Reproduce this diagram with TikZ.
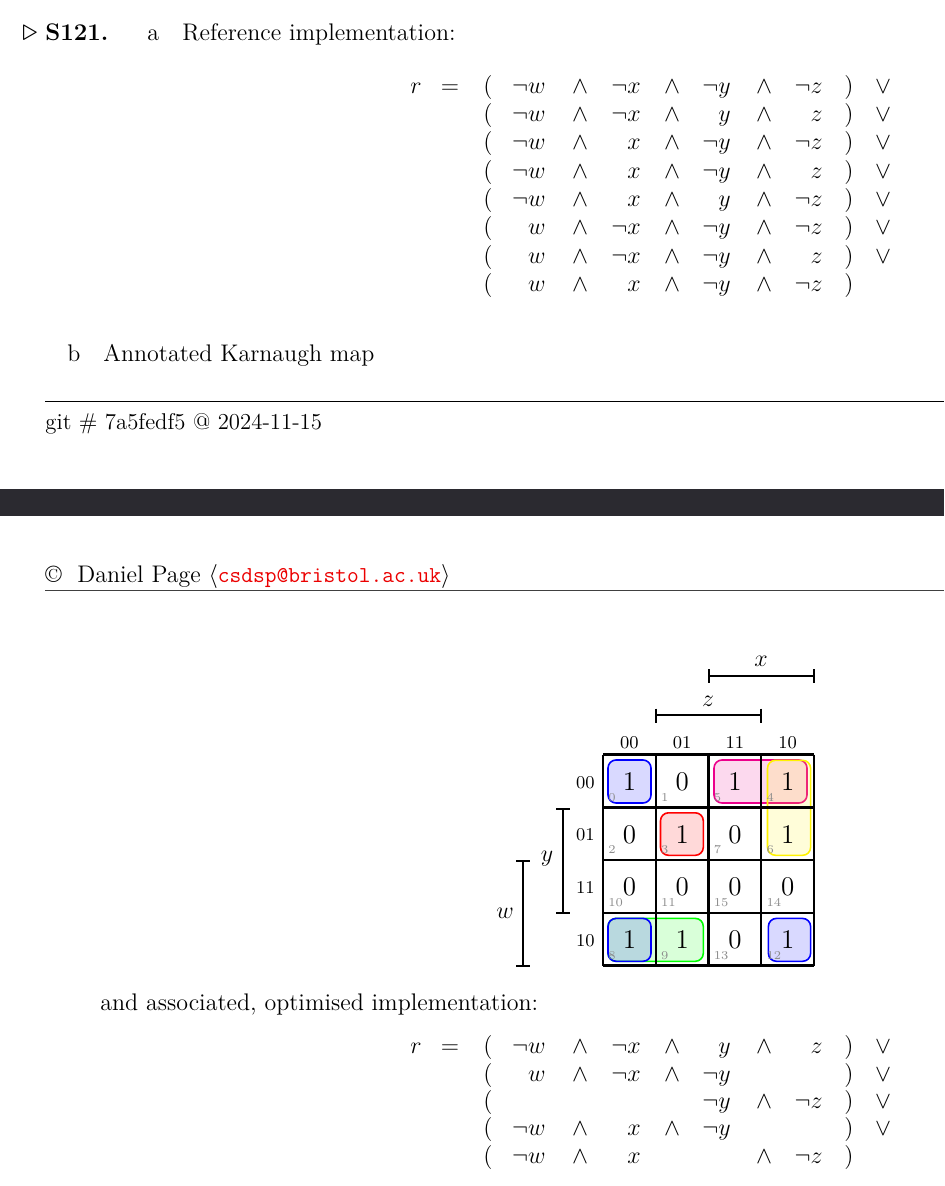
\documentclass[tikz,border=0pt]{standalone}
\usepackage{fontspec}
\usepackage{amsmath,amssymb}
\definecolor{barcol}{RGB}{43,42,48}
\definecolor{mailred}{RGB}{235,0,0}
\newcommand\eqrow[9]{%
  \node[mth] at (488,#1) {$($};
  \node[mthr] at (546,#1) {\ensuremath{#2}};
  \node[mth] at (580,#1) {\ensuremath{#3}};
  \node[mthr] at (641,#1) {\ensuremath{#4}};
  \node[mth] at (672,#1) {\ensuremath{#5}};
  \node[mthr] at (731,#1) {\ensuremath{#6}};
  \node[mth] at (764,#1) {\ensuremath{#7}};
  \node[mthr] at (823,#1) {\ensuremath{#8}};
  \node[mth] at (849,#1) {$)$};
  \node[mth] at (883,#1) {\ensuremath{#9}};
}
\begin{document}
\begin{tikzpicture}[x=0.5pt,y=-0.5pt,
  txt/.style={inner sep=0pt,anchor=base west,font=\fontsize{12}{14}\selectfont},
  mth/.style={inner sep=0pt,anchor=base,font=\fontsize{12.5}{15}\selectfont},
  mthr/.style={inner sep=0pt,anchor=base east,font=\fontsize{12.5}{15}\selectfont},
  lbl/.style={inner sep=0pt,anchor=center,font=\fontsize{12.5}{15}\selectfont},
  axlbl/.style={inner sep=0pt,font=\fontsize{9}{11}\selectfont},
  cellval/.style={inner sep=0pt,anchor=center,font=\fontsize{13.5}{15}\selectfont},
  cellidx/.style={inner sep=0pt,anchor=base west,text=black!45,font=\fontsize{6}{7}\selectfont},
  gridline/.style={line width=1.2pt,black},
  brk/.style={line width=1pt,black},
  grp/.style={line width=0.8pt,rounded corners=4pt,fill opacity=0.15,draw opacity=1},
]
\useasboundingbox (0,0) rectangle (944,1186);

% ---------- heading ----------
\node[txt] (tri) at (22,41) {\scalebox{1.3}{$\triangleright$}};
\node[txt] (sno) at (45,41) {\textbf{S121.}};
\node[txt] (pa) at (147,41) {a};
\node[txt] (pat) at (182,41) {Reference implementation:};

% ---------- reference implementation ----------
\node[mth] (r1) at (416,93.3) {$r$};
\node[mth] (eq1) at (450,93.3) {$=$};
\eqrow{93.3}{\neg w}{\wedge}{\neg x}{\wedge}{\neg y}{\wedge}{\neg z}{\vee}
\eqrow{121.7}{\neg w}{\wedge}{\neg x}{\wedge}{y}{\wedge}{z}{\vee}
\eqrow{150}{\neg w}{\wedge}{x}{\wedge}{\neg y}{\wedge}{\neg z}{\vee}
\eqrow{178.3}{\neg w}{\wedge}{x}{\wedge}{\neg y}{\wedge}{z}{\vee}
\eqrow{206.7}{\neg w}{\wedge}{x}{\wedge}{y}{\wedge}{\neg z}{\vee}
\eqrow{235}{w}{\wedge}{\neg x}{\wedge}{\neg y}{\wedge}{\neg z}{\vee}
\eqrow{263.4}{w}{\wedge}{\neg x}{\wedge}{\neg y}{\wedge}{z}{\vee}
\eqrow{291.7}{w}{\wedge}{x}{\wedge}{\neg y}{\wedge}{\neg z}{}

% ---------- part b ----------
\node[txt] (pb) at (67,362) {b};
\node[txt] (pbt) at (103,362) {Annotated Karnaugh map};

% ---------- footer / header of page ----------
\draw[line width=0.5pt] (45,401.7) -- (944,401.7);
\node[txt,font=\fontsize{11.4}{14}\selectfont] (git) at (45,430) {git \# 7a5fedf5 @ 2024-11-15};
\fill[barcol] (0,489) rectangle (944,516);
\node[txt] (copy) at (45,582) {\textcopyright\ \ Daniel Page $\langle$\textcolor{mailred}{\fontsize{11.4}{14}\selectfont\texttt{csdsp@bristol.ac.uk}}$\rangle$};
\draw[line width=0.6pt,black!75] (45,590.5) -- (944,590.5);

% ---------- Karnaugh map ----------
% groups
\draw[grp,draw=blue,fill=blue] (608,760) rectangle (651,803);
\draw[grp,draw=red,fill=red] (660.5,812.8) rectangle (703.3,855.3);
\draw[grp,draw=green,fill=green] (608,918.4) rectangle (703.3,961.3);
\draw[grp,draw=blue,fill=blue] (608,918.4) rectangle (651,961.3);
\draw[grp,draw=blue,fill=blue] (768.4,918.4) rectangle (810.6,961.3);
\draw[grp,draw=magenta,fill=magenta] (714,760) rectangle (807,803);
\draw[grp,draw=yellow,fill=yellow] (767.5,760.3) rectangle (810.6,855.3);

% grid
\foreach \k in {0,...,4} {
  \draw[gridline] ({603+52.75*\k},754.6) -- ({603+52.75*\k},965.6);
  \draw[gridline] (603,{754.6+52.75*\k}) -- (814,{754.6+52.75*\k});
}

% column / row labels
\foreach \t [count=\c from 0] in {00,01,11,10} {
  \node[axlbl,anchor=base] (col\c) at ({629.4+52.75*\c},748) {\t};
  \node[axlbl,anchor=base east] (row\c) at (595,{788+52.75*\c}) {\t};
}

% values
\foreach \r/\vals in {0/{1,0,1,1},1/{0,1,0,1},2/{0,0,0,0},3/{1,1,0,1}} {
  \foreach \v [count=\c from 0] in \vals {
    \node[cellval] (v\r\c) at ({629.4+52.75*\c},{781.7+52.75*\r}) {\v};
  }
}
% indices
\foreach \r/\vals in {0/{0,1,5,4},1/{2,3,7,6},2/{10,11,15,14},3/{8,9,13,12}} {
  \foreach \v [count=\c from 0] in \vals {
    \node[cellidx] (i\r\c) at ({608+52.75*\c},{801+52.75*\r}) {\v};
  }
}

% brackets
\draw[brk] (708.5,676) -- (814,676);
\draw[brk] (708.5,669) -- (708.5,683);
\draw[brk] (814,669) -- (814,683);
\node[lbl] (lx) at (761,661.5) {$x$};

\draw[brk] (655.75,715.4) -- (761.25,715.4);
\draw[brk] (655.75,708.5) -- (655.75,722.5);
\draw[brk] (761.25,708.5) -- (761.25,722.5);
\node[lbl] (lz) at (708,701.5) {$z$};

\draw[brk] (563,808.5) -- (563,912.5);
\draw[brk] (556,808.5) -- (570,808.5);
\draw[brk] (556,912.5) -- (570,912.5);
\node[lbl] (ly) at (547,859) {$y$};

\draw[brk] (523,861) -- (523,965.6);
\draw[brk] (516,861) -- (530,861);
\draw[brk] (516,965.6) -- (530,965.6);
\node[lbl] (lw) at (505,913) {$w$};

% ---------- optimised implementation ----------
\node[txt] (and) at (100,1010) {and associated, optimised implementation:};
\node[mth] (r2) at (416,1053) {$r$};
\node[mth] (eq2) at (450,1053) {$=$};
\eqrow{1053}{\neg w}{\wedge}{\neg x}{\wedge}{y}{\wedge}{z}{\vee}
\eqrow{1081}{w}{\wedge}{\neg x}{\wedge}{\neg y}{}{}{\vee}
\eqrow{1108}{}{}{}{}{\neg y}{\wedge}{\neg z}{\vee}
\eqrow{1135}{\neg w}{\wedge}{x}{\wedge}{\neg y}{}{}{\vee}
\eqrow{1163}{\neg w}{\wedge}{x}{}{}{\wedge}{\neg z}{}
\end{tikzpicture}
\end{document}
